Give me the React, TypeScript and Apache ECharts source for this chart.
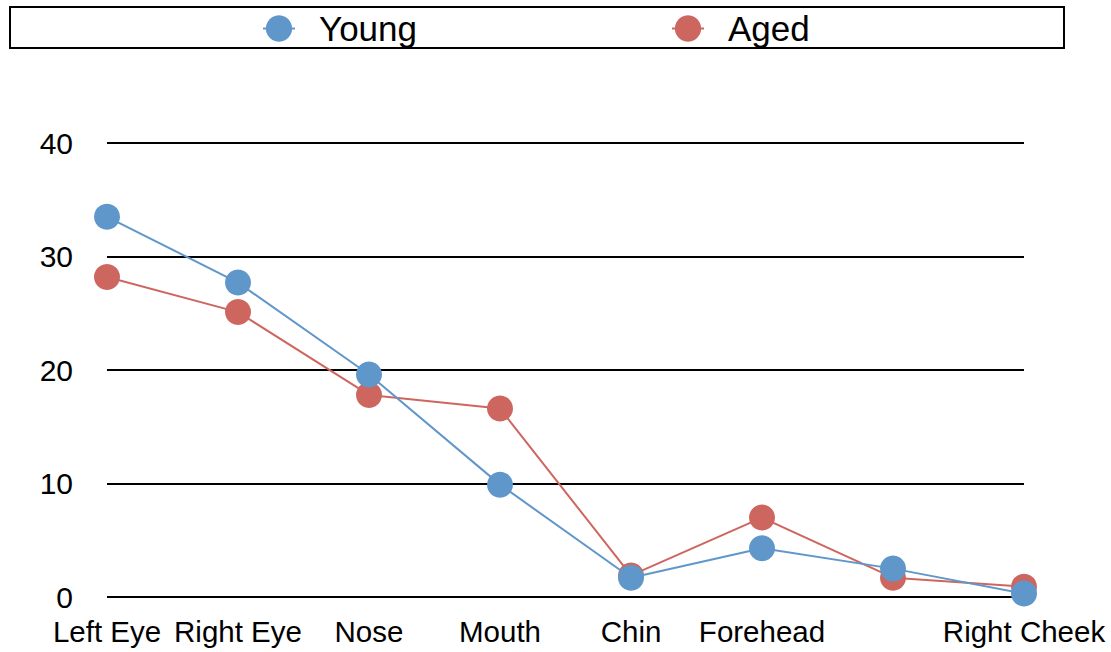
import React, { useEffect, useRef } from "react";
import * as echarts from "echarts";

// Face regions along the x axis; the seventh tick carries no printed label.
const regions = ["Left Eye", "Right Eye", "Nose", "Mouth", "Chin", "Forehead", "Left Cheek", "Right Cheek"];
const hiddenLabelIndex = 6;

const youngValues = [33.5, 27.7, 19.6, 9.9, 1.7, 4.3, 2.5, 0.3];
const agedValues = [28.2, 25.1, 17.8, 16.6, 1.9, 7.0, 1.7, 0.9];

const yTicks = { min: 0, max: 40, interval: 10 };

const BLUE = "#6097CA";
const RED = "#CE6660";
const FONT = "'Liberation Sans', Arial, Helvetica, sans-serif";

export default function App() {
  const ref = useRef<HTMLDivElement>(null);

  useEffect(() => {
    document.body.style.margin = "0";
    if (!ref.current) return;
    const chart = echarts.init(ref.current, null, { renderer: "svg" });
    chart.setOption({
      animation: false,
      backgroundColor: "#ffffff",
      textStyle: { fontFamily: FONT },
      graphic: [
        {
          type: "rect",
          shape: { x: 10, y: 7, width: 1054, height: 41 },
          style: { fill: "none", stroke: "#000", lineWidth: 2 },
          z: -1,
        },
      ],
      legend: {
        top: 6,
        left: 257,
        padding: 5,
        itemGap: 254,
        itemWidth: 32,
        itemHeight: 33,
        textStyle: { fontSize: 35, color: "#000", fontFamily: FONT, padding: [0, 0, 0, 19] },
        data: ["Young", "Aged"],
      },
      grid: { left: 107, right: 87, top: 143, bottom: 55, containLabel: false },
      xAxis: {
        type: "category",
        data: regions,
        boundaryGap: false,
        axisLine: { show: false },
        axisTick: { show: false },
        axisLabel: {
          interval: 0,
          margin: 19,
          fontSize: 29.5,
          color: "#000",
          fontFamily: FONT,
          formatter: (v: string, i: number) => (i === hiddenLabelIndex ? "" : v),
        },
      },
      yAxis: {
        type: "value",
        min: yTicks.min,
        max: yTicks.max,
        interval: yTicks.interval,
        axisLine: { show: false },
        axisTick: { show: false },
        axisLabel: { margin: 34, fontSize: 30, color: "#000", fontFamily: FONT, padding: [4, 0, 0, 0] },
        splitLine: { lineStyle: { color: "#000", width: 2 } },
      },
      series: [
        {
          name: "Young",
          type: "line",
          data: youngValues,
          symbol: "circle",
          symbolSize: 26,
          z: 3,
          itemStyle: { color: BLUE },
          lineStyle: { color: BLUE, width: 2 },
        },
        {
          name: "Aged",
          type: "line",
          data: agedValues,
          symbol: "circle",
          symbolSize: 26,
          z: 2,
          itemStyle: { color: RED },
          lineStyle: { color: RED, width: 2 },
        },
      ],
    });
    return () => chart.dispose();
  }, []);

  return <div ref={ref} style={{ width: 1111, height: 652 }} />;
}
